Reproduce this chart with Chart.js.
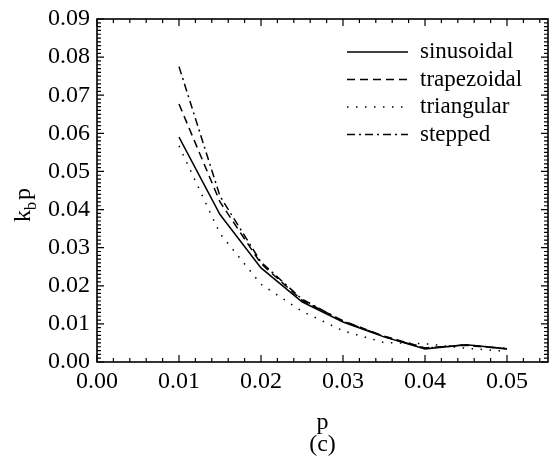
<!DOCTYPE html>
<html>
<head>
<meta charset="utf-8">
<script src="https://cdn.jsdelivr.net/npm/chart.js@4.4.1/dist/chart.umd.min.js"></script>
<style>
  body { margin: 0; background: #fff; }
</style>
</head>
<body>
<canvas id="kbChart" width="551" height="468"></canvas>
<script>
// p values (x axis)
const pValues = [0.01, 0.015, 0.02, 0.025, 0.03, 0.035, 0.04, 0.045, 0.05];

// k_b p for each waveform
const sinusoidal  = [0.0590, 0.0387, 0.0247, 0.0158, 0.0105, 0.0066, 0.0034, 0.0045, 0.0035];
const trapezoidal = [0.0677, 0.0420, 0.0258, 0.0162, 0.0108, 0.0068, 0.0037, 0.0044, 0.0034];
const triangular  = [0.0567, 0.0337, 0.0204, 0.0133, 0.0082, 0.0051, 0.0048, 0.0036, 0.0028];
const stepped     = [0.0775, 0.0435, 0.0262, 0.0165, 0.0107, 0.0067, 0.0036, 0.0045, 0.0035];

const seriesNames = ['sinusoidal', 'trapezoidal', 'triangular', 'stepped'];

const FONT = "'Liberation Serif', 'Times New Roman', serif";

function toPoints(ys) {
    return pValues.map((p, i) => ({ x: p, y: ys[i] }));
}

function makeDataset(label, ys, dash) {
    return {
        label: label,
        data: toPoints(ys),
        borderColor: '#000',
        borderWidth: 1.5,
        borderDash: dash,
        pointRadius: 0,
        tension: 0,
        fill: false
    };
}

// Frame with inward ticks on all four sides, legend and y label
const paperStyle = {
    id: 'paperStyle',
    afterDraw(chart) {
        const { ctx, chartArea: a, scales: { x, y } } = chart;
        ctx.save();
        ctx.strokeStyle = '#000';
        ctx.setLineDash([]);

        ctx.lineWidth = 1.2;
        // x ticks every 0.002, major every 0.01
        const nx = Math.round(x.max / 0.002);
        for (let i = 0; i <= nx; i++) {
            const px = x.getPixelForValue(i * 0.002);
            const len = i % 5 === 0 ? 7 : 4;
            ctx.beginPath();
            ctx.moveTo(px, a.bottom); ctx.lineTo(px, a.bottom - len);
            ctx.moveTo(px, a.top); ctx.lineTo(px, a.top + len);
            ctx.stroke();
        }
        // y ticks every 0.001, major every 0.01
        const ny = Math.round(y.max / 0.001);
        for (let i = 0; i <= ny; i++) {
            const py = y.getPixelForValue(i * 0.001);
            const len = i % 10 === 0 ? 7 : 4;
            ctx.beginPath();
            ctx.moveTo(a.left, py); ctx.lineTo(a.left + len, py);
            ctx.moveTo(a.right, py); ctx.lineTo(a.right - len, py);
            ctx.stroke();
        }

        ctx.lineWidth = 1.6;
        ctx.strokeRect(a.left, a.top, a.right - a.left, a.bottom - a.top);

        // legend
        ctx.font = '23px ' + FONT;
        ctx.fillStyle = '#000';
        ctx.textBaseline = 'middle';
        ctx.textAlign = 'left';
        chart.data.datasets.forEach((ds, i) => {
            const ly = 52 + i * 27.5;
            ctx.lineWidth = ds.borderWidth;
            ctx.setLineDash(ds.borderDash);
            ctx.beginPath();
            ctx.moveTo(347, ly);
            ctx.lineTo(408, ly);
            ctx.stroke();
            ctx.fillText(ds.label, 420, ly);
        });

        // y axis label k_b p
        ctx.setLineDash([]);
        ctx.translate(30, 222);
        ctx.rotate(-Math.PI / 2);
        ctx.textBaseline = 'alphabetic';
        ctx.font = '24px ' + FONT;
        ctx.fillText('k', 0, 0);
        let w = ctx.measureText('k').width;
        ctx.font = '16px ' + FONT;
        ctx.fillText('b', w, 6);
        w += ctx.measureText('b').width + 2;
        ctx.font = '24px ' + FONT;
        ctx.fillText('p', w, 0);
        ctx.restore();
    }
};

const ctx = document.getElementById('kbChart').getContext('2d');
const kbChart = new Chart(ctx, {
    type: 'line',
    data: {
        datasets: [
            makeDataset(seriesNames[0], sinusoidal, []),
            makeDataset(seriesNames[1], trapezoidal, [8, 5]),
            makeDataset(seriesNames[2], triangular, [1.5, 7.5]),
            makeDataset(seriesNames[3], stepped, [8, 4, 2, 4])
        ]
    },
    options: {
        responsive: false,
        animation: false,
        layout: { padding: { top: 15, right: 3, left: 0, bottom: 0 } },
        plugins: {
            legend: { display: false },
            tooltip: { enabled: false }
        },
        scales: {
            x: {
                type: 'linear',
                min: 0,
                max: 0.055,
                grid: { display: false, drawTicks: false },
                border: { display: false },
                ticks: {
                    stepSize: 0.01,
                    includeBounds: false,
                    padding: 8,
                    color: '#000',
                    font: { family: FONT, size: 24, lineHeight: 1 },
                    maxRotation: 0,
                    callback: v => v.toFixed(2)
                },
                title: {
                    display: true,
                    text: ['p', '(c)'],
                    color: '#000',
                    font: { family: FONT, size: 24, lineHeight: 0.92 },
                    padding: { top: 0, bottom: 12 }
                },
                afterFit(scale) { scale.height = 106; }
            },
            y: {
                min: 0,
                max: 0.09,
                grid: { display: false, drawTicks: false },
                border: { display: false },
                ticks: {
                    stepSize: 0.01,
                    padding: 7,
                    color: '#000',
                    font: { family: FONT, size: 24, lineHeight: 1 },
                    callback: v => v.toFixed(2)
                },
                afterFit(scale) { scale.width = 97; }
            }
        }
    },
    plugins: [paperStyle]
});
</script>
</body>
</html>
